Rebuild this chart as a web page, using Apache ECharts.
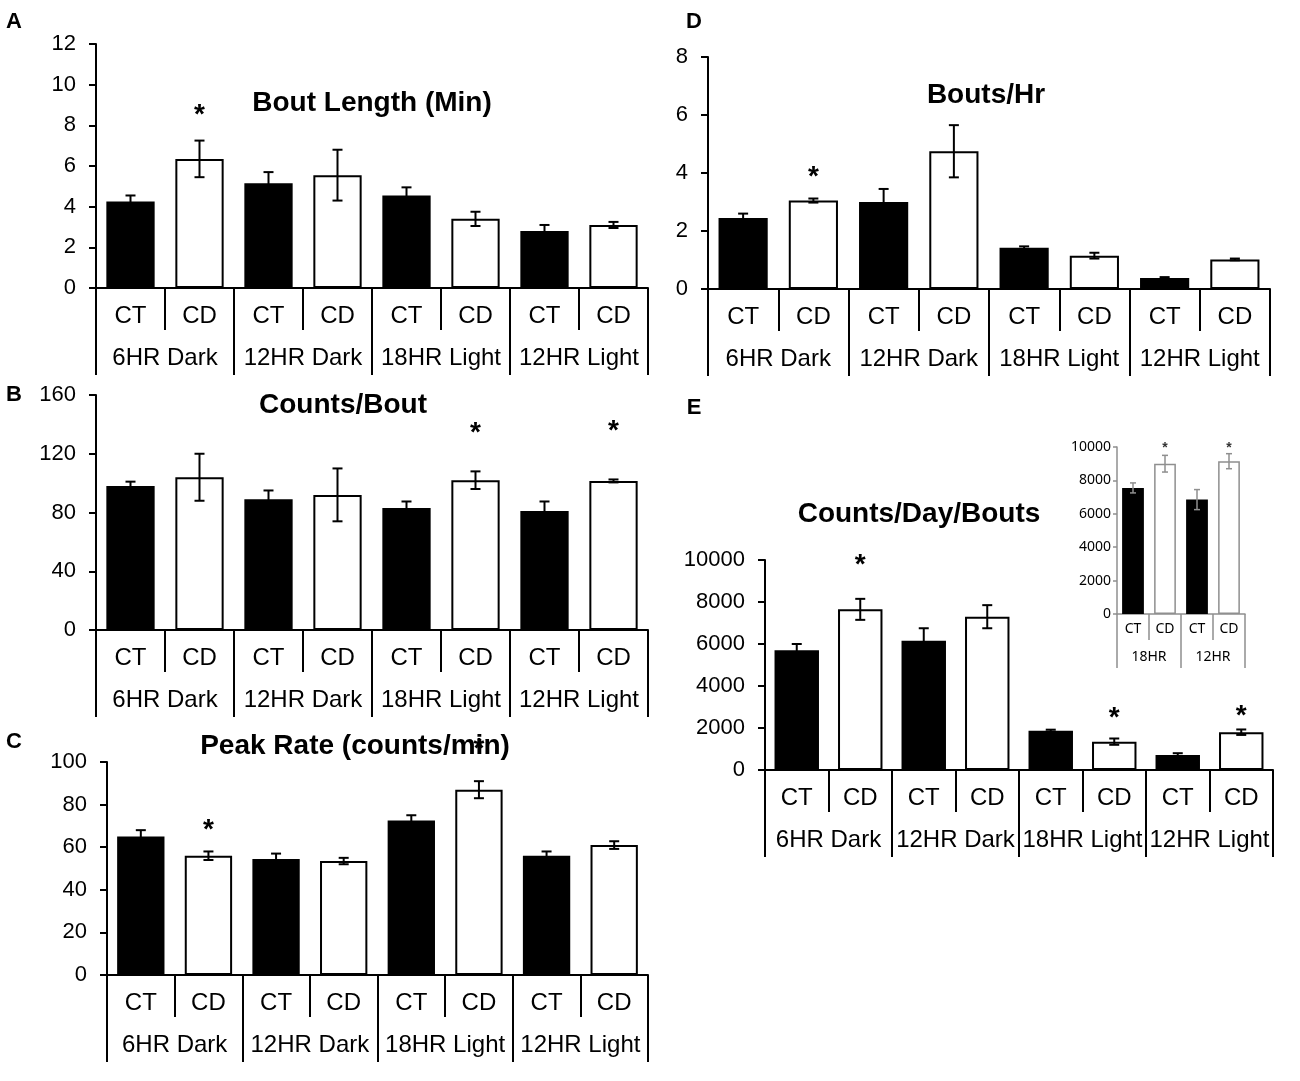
<!DOCTYPE html>
<html>
<head>
<meta charset="utf-8">
<script src="https://cdn.jsdelivr.net/npm/echarts@6/dist/echarts.min.js"></script>
<style>
  html, body { margin: 0; padding: 0; background: #fff; }
  #chart { width: 1300px; height: 1081px; }
</style>
</head>
<body>
<div id="chart"></div>
<script>
// ---- data ----
const groups = ['6HR Dark', '12HR Dark', '18HR Light', '12HR Light'];
const conditions = ['CT', 'CD', 'CT', 'CD', 'CT', 'CD', 'CT', 'CD'];

const boutLength = [4.25, 6.35, 5.15, 5.55, 4.55, 3.4, 2.8, 3.1];
const boutLengthErr = [0.3, 0.9, 0.55, 1.25, 0.4, 0.35, 0.3, 0.15];
const boutLengthStars = [[1, 8.5]];

const countsPerBout = [98, 104, 89, 92, 83, 102, 81, 101.5];
const countsPerBoutErr = [3, 16, 6, 18, 4.5, 6, 6.5, 1];
const countsPerBoutStars = [[5, 134], [7, 135]];

const peakRate = [65, 56, 54.5, 53.5, 72.5, 87, 56, 61];
const peakRateErr = [3, 2, 2.5, 1.5, 2.5, 4, 2, 1.8];
const peakRateStars = [[1, 68], [5, 106]];

const boutsPerHr = [2.45, 3.05, 3.0, 4.75, 1.42, 1.15, 0.38, 1.02];
const boutsPerHrErr = [0.15, 0.07, 0.45, 0.9, 0.05, 0.1, 0.03, 0.03];
const boutsPerHrStars = [[1, 3.85]];

const countsDayBouts = [5700, 7650, 6150, 7300, 1870, 1350, 720, 1800];
const countsDayBoutsErr = [300, 500, 600, 550, 50, 150, 80, 130];
const countsDayBoutsStars = [[1, 9750], [5, 2450], [7, 2550]];

const insetGroups = ['18HR', '12HR'];
const insetConditions = ['CT', 'CD', 'CT', 'CD'];
const insetValues = [7550, 9000, 6850, 9150];
const insetErr = [300, 500, 600, 450];
const insetStars = [[1, 9950], [3, 9950]];

// ---- layout ----
const FONT = '"Liberation Sans", Arial, sans-serif';
const panels = [
  { letter: 'A', lx: 14, ly: 22, title: 'Bout Length (Min)', tx: 372, ty: 103,
    box: [96, 44, 552, 244], max: 12, interval: 2,
    values: boutLength, err: boutLengthErr, stars: boutLengthStars },
  { letter: 'B', lx: 14, ly: 395, title: 'Counts/Bout', tx: 343, ty: 405,
    box: [96, 395, 552, 235], max: 160, interval: 40,
    values: countsPerBout, err: countsPerBoutErr, stars: countsPerBoutStars },
  { letter: 'C', lx: 14, ly: 742, title: 'Peak Rate (counts/min)', tx: 355, ty: 746,
    box: [107, 762, 541, 213], max: 100, interval: 20,
    values: peakRate, err: peakRateErr, stars: peakRateStars },
  { letter: 'D', lx: 694, ly: 22, title: 'Bouts/Hr', tx: 986, ty: 95,
    box: [708, 57, 562, 232], max: 8, interval: 2,
    values: boutsPerHr, err: boutsPerHrErr, stars: boutsPerHrStars },
  { letter: 'E', lx: 694, ly: 408, title: 'Counts/Day/Bouts', tx: 919, ty: 514,
    box: [765, 560, 508, 210], max: 10000, interval: 2000,
    values: countsDayBouts, err: countsDayBoutsErr, stars: countsDayBoutsStars },
  { inset: true,
    box: [1117, 447, 128, 167], max: 10000, interval: 2000,
    values: insetValues, err: insetErr, stars: insetStars }
];

const option = {
  backgroundColor: '#fff',
  animation: false,
  grid: [], xAxis: [], yAxis: [], series: [], graphic: []
};

panels.forEach(function (p) {
  const small = !!p.inset;
  const ink = small ? '#8f8f8f' : '#000';
  const lw = small ? 1.5 : 2;
  const font = small ? '"Noto Sans", sans-serif' : FONT;
  const fs = small ? 14 : 24;
  const cats = small ? insetConditions : conditions;
  const grp = small ? insetGroups : groups;
  const gi = option.grid.length;
  const g = { left: p.box[0], top: p.box[1], width: p.box[2], height: p.box[3] };
  option.grid.push(g, Object.assign({}, g));

  option.xAxis.push({
    type: 'category', gridIndex: gi, data: cats, position: 'bottom',
    axisLine: { show: true, lineStyle: { color: ink, width: lw } },
    axisTick: { show: true, interval: 0, length: small ? 26 : 42, lineStyle: { color: ink, width: lw } },
    axisLabel: { interval: 0, margin: small ? 8 : 16, color: '#000', fontSize: fs, fontFamily: font },
    splitLine: { show: false }
  }, {
    type: 'category', gridIndex: gi + 1, data: grp, position: 'bottom',
    axisLine: { show: false },
    axisTick: { show: true, interval: 0, length: small ? 54 : 87, lineStyle: { color: ink, width: lw } },
    axisLabel: { interval: 0, margin: small ? 36 : 58, color: '#000', fontSize: fs, fontFamily: font },
    splitLine: { show: false }
  });

  option.yAxis.push({
    type: 'value', gridIndex: gi, min: 0, max: p.max, interval: p.interval,
    axisLine: { show: true, lineStyle: { color: ink, width: lw } },
    axisTick: { show: true, length: small ? 4 : 7, lineStyle: { color: ink, width: lw } },
    axisLabel: { margin: small ? 6 : 20, color: '#000', fontSize: small ? 14 : 22, fontFamily: font,
      formatter: function (v) { return String(v); } },
    splitLine: { show: false }
  }, {
    type: 'value', gridIndex: gi + 1, min: 0, max: p.max, show: false
  });

  const xi = gi, yi = gi;
  option.series.push({
    type: 'bar', xAxisIndex: xi, yAxisIndex: yi,
    barCategoryGap: small ? '32%' : '30%',
    data: p.values.map(function (v, i) {
      const isCT = cats[i] === 'CT';
      return {
        value: v,
        itemStyle: {
          color: isCT ? '#000' : '#fff',
          borderColor: isCT ? '#000' : ink,
          borderWidth: lw
        }
      };
    })
  });

  option.series.push({
    type: 'custom', xAxisIndex: xi, yAxisIndex: yi, z: 5,
    data: p.values.map(function (v, i) { return [i, v - p.err[i], v + p.err[i]]; }),
    encode: { x: 0, y: [1, 2] },
    renderItem: function (params, api) {
      const lo = api.coord([api.value(0), api.value(1)]);
      const hi = api.coord([api.value(0), api.value(2)]);
      const w = small ? 3 : 5;
      const st = { stroke: ink, lineWidth: lw };
      return {
        type: 'group', children: [
          { type: 'line', shape: { x1: lo[0], y1: lo[1], x2: hi[0], y2: hi[1] }, style: st },
          { type: 'line', shape: { x1: hi[0] - w, y1: hi[1], x2: hi[0] + w, y2: hi[1] }, style: st },
          { type: 'line', shape: { x1: lo[0] - w, y1: lo[1], x2: lo[0] + w, y2: lo[1] }, style: st }
        ]
      };
    }
  });

  option.series.push({
    type: 'custom', xAxisIndex: xi, yAxisIndex: yi, z: 6, clip: false,
    data: p.stars,
    encode: { x: 0, y: 1 },
    renderItem: function (params, api) {
      const pt = api.coord([api.value(0), api.value(1)]);
      return {
        type: 'text', x: pt[0], y: pt[1],
        style: {
          text: '*', align: 'center', verticalAlign: 'middle',
          fontSize: small ? 14 : 28, fontFamily: FONT, fontWeight: 'bold',
          fill: small ? '#333' : '#000'
        }
      };
    }
  });

  if (!small) {
    option.graphic.push({
      type: 'text', x: p.lx, y: p.ly,
      style: { text: p.letter, fontSize: 22, fontWeight: 'bold', fontFamily: FONT,
        fill: '#000', align: 'center', verticalAlign: 'middle' }
    }, {
      type: 'text', x: p.tx, y: p.ty,
      style: { text: p.title, fontSize: 28, fontWeight: 'bold', fontFamily: FONT,
        fill: '#000', align: 'center', verticalAlign: 'middle' }
    });
  }
});

const chart = echarts.init(document.getElementById('chart'));
chart.setOption(option);
</script>
</body>
</html>
